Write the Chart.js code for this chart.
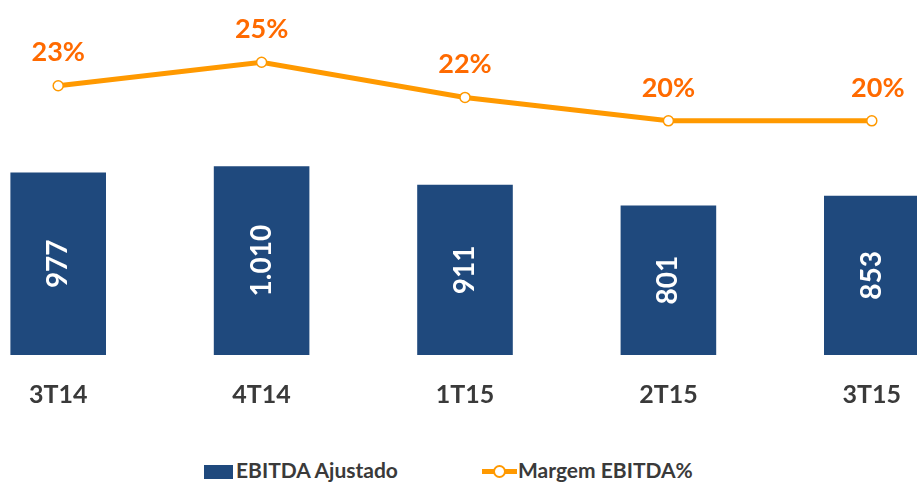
<!DOCTYPE html>
<html>
<head>
<meta charset="utf-8">
<script src="https://cdn.jsdelivr.net/npm/chart.js@4.4.1/dist/chart.umd.min.js"></script>
<style>
  html, body { margin: 0; padding: 0; background: #fff; overflow: hidden; }
  body { width: 917px; height: 485px; position: relative; font-family: Lato, "Open Sans", sans-serif; }
  #wrap { position: absolute; left: -50px; top: 0; width: 1030px; height: 435px; }
  .legend { position: absolute; top: 455px; left: 0; width: 917px; height: 30px; font-weight: bold; font-size: 21px; color: #3A3A3A; }
  .item { position: absolute; top: 0; height: 30px; line-height: 30px; white-space: nowrap; }
  .box { position: absolute; left: 204px; top: 10px; width: 29px; height: 14px; background: #1F497D; }
  .ln { position: absolute; left: 482px; top: 14px; width: 35px; height: 5px; background: #FF9900; }
  .dot { position: absolute; left: 493px; top: 10px; width: 9px; height: 9px; border: 2px solid #FF9900; border-radius: 50%; background: #fff; }
</style>
</head>
<body>
<div id="wrap"><canvas id="chart"></canvas></div>
<div class="legend">
  <div class="box"></div><div class="item" style="left:236px">EBITDA Ajustado</div>
  <div class="ln"></div><div class="dot"></div><div class="item" style="left:518px">Margem EBITDA%</div>
</div>
<script>
const quarters = ['3T14', '4T14', '1T15', '2T15', '3T15'];
const ebitda = [977, 1010, 911, 801, 853];
const margem = [23, 25, 22, 20, 20];

const navy = '#1F497D';
const orange = '#FF9900';
const labelOrange = '#FF6A00';

function fmt(n) {
    // thousand separator like the original (1.010)
    return String(n).replace(/\B(?=(\d{3})+(?!\d))/g, '.');
}

const valueLabels = {
    id: 'valueLabels',
    afterDatasetsDraw(chart) {
        const ctx = chart.ctx;
        ctx.save();
        // numbers inside the bars, rotated
        chart.getDatasetMeta(0).data.forEach(function(bar, i) {
            const cy = (bar.y + bar.base) / 2;
            ctx.save();
            ctx.translate(bar.x, cy);
            ctx.rotate(-Math.PI / 2);
            ctx.fillStyle = '#fff';
            ctx.font = 'bold 28px Lato';
            ctx.textAlign = 'center';
            ctx.textBaseline = 'middle';
            ctx.fillText(fmt(ebitda[i]), 0, 0);
            ctx.restore();
        });
        // percentages above the line
        chart.getDatasetMeta(1).data.forEach(function(pt, i) {
            ctx.fillStyle = labelOrange;
            ctx.font = 'bold 27px Lato';
            ctx.textAlign = 'center';
            ctx.textBaseline = 'middle';
            const dx = i === margem.length - 1 ? 6 : 0;
            ctx.fillText(margem[i] + '%', pt.x + dx, pt.y - 33);
        });
        ctx.restore();
    }
};

const chart = new Chart(document.getElementById('chart'), {
    data: {
        labels: quarters,
        datasets: [
            {
                type: 'bar',
                label: 'EBITDA Ajustado',
                data: ebitda,
                backgroundColor: navy,
                yAxisID: 'y',
                barPercentage: 0.94,
                categoryPercentage: 0.5,
                order: 2
            },
            {
                type: 'line',
                label: 'Margem EBITDA%',
                data: margem,
                borderColor: orange,
                borderWidth: 5,
                pointRadius: 5,
                pointBorderWidth: 1.5,
                pointBackgroundColor: '#fff',
                pointBorderColor: orange,
                yAxisID: 'y1',
                tension: 0,
                order: 1
            }
        ]
    },
    options: {
        responsive: true,
        maintainAspectRatio: false,
        animation: false,
        layout: { padding: { top: 14.5, bottom: 0, left: 0, right: 0 } },
        plugins: { legend: { display: false }, tooltip: { enabled: false } },
        scales: {
            x: {
                grid: { display: false, drawTicks: false },
                border: { display: false },
                ticks: { color: '#3A3A3A', font: { family: 'Lato', size: 25, weight: 'bold' }, padding: 25 }
            },
            y: { display: false, min: 0, max: 1823 },
            y1: { display: false, min: 0, max: 29.08 }
        }
    },
    plugins: [valueLabels]
});
</script>
</body>
</html>
